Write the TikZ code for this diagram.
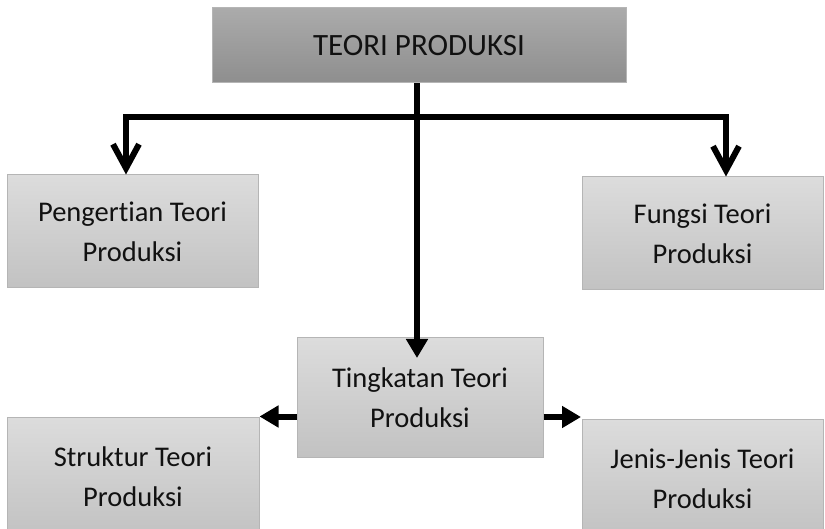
\documentclass[tikz,border=0pt]{standalone}
\usepackage{fontspec}
\setmainfont{Carlito}[Ligatures={NoCommon}]
\usetikzlibrary{arrows.meta}
\definecolor{boxtop}{HTML}{DCDCDC}
\definecolor{boxbot}{HTML}{C2C2C2}
\definecolor{headtop}{HTML}{ABABAB}
\definecolor{headbot}{HTML}{8E8E8E}
\definecolor{boxline}{HTML}{B5B5B5}
\definecolor{txt}{HTML}{111111}
\tikzset{
  box/.style={draw=boxline, line width=1pt, top color=boxtop, bottom color=boxbot,
    align=center, text=txt, inner sep=0pt,
    font=\fontsize{28.5}{40}\selectfont},
  headbox/.style={box, top color=headtop, bottom color=headbot,
    font=\fontsize{31}{40}\selectfont},
  conn/.style={line width=6pt, draw=black},
  barb/.style={conn, -{Straight Barb[length=24pt,width=26pt,line width=6pt]}},
  tri/.style={conn, -{Triangle[length=19pt,width=21pt]}},
}
\begin{document}
\begin{tikzpicture}[x=1pt,y=-1pt]
\useasboundingbox (0,0) rectangle (825,529);
\clip (0,0) rectangle (825,529);
\node[headbox, minimum width=414pt, minimum height=75pt] (top) at (419,45.5) {TEORI PRODUKSI};
\node[box, minimum width=251pt, minimum height=113pt] (pen) at (132.5,231.5) {Pengertian Teori\\Produksi};
\node[box, minimum width=241pt, minimum height=113pt] (fun) at (702.5,233.5) {Fungsi Teori\\Produksi};
\node[box, minimum width=246pt, minimum height=119pt] (ting) at (420,397.5) {Tingkatan Teori\\Produksi};
\node[box, minimum width=252pt, minimum height=119pt] (str) at (133,476.5) {Struktur Teori\\Produksi};
\node[box, minimum width=241pt, minimum height=119pt] (jen) at (702.5,478.5) {Jenis-Jenis Teori\\Produksi};
\coordinate (bl) at (126,117);
\coordinate (br) at (726,117);
\coordinate (tipc) at (417,358);
\coordinate (tipr) at (581,417);
\draw[conn] (bl) -- (br);
\draw[barb] ([xshift=-3pt]bl) -- (bl) -- (bl |- pen.north);
\draw[barb] ([xshift=3pt]br) -- (br) -- (br |- fun.north);
\draw[tri] (top.south -| tipc) -- (tipc);
\draw[tri] (ting.west |- str.north east) -- (str.north east);
\draw[tri] (ting.east |- tipr) -- (tipr);
\end{tikzpicture}
\end{document}
